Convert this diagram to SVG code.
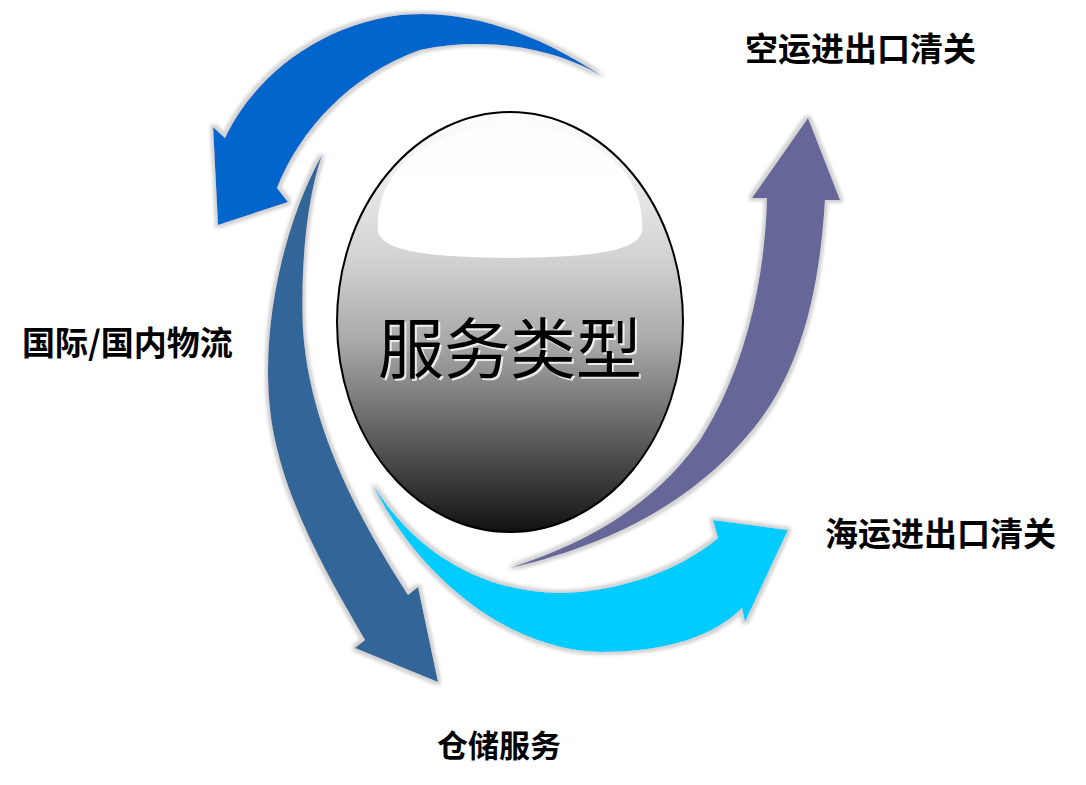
<svg xmlns="http://www.w3.org/2000/svg" width="1086" height="785" viewBox="0 0 1086 785">
  <style>
    .lbl { font-family: "Noto Sans CJK SC", "Noto Sans", sans-serif; font-weight: bold; font-size: 33px; fill: #000; }
    .ctr { font-family: "Noto Sans CJK SC", "Noto Sans", sans-serif; font-size: 66px; text-anchor: middle; }
    .arrow { filter: url(#glow); }
  </style>
  <defs>
    <filter id="glow" x="-10%" y="-10%" width="120%" height="120%">
      <feMorphology in="SourceAlpha" operator="dilate" radius="2.5" result="d"/>
      <feGaussianBlur in="d" stdDeviation="1.5" result="b"/>
      <feFlood flood-color="#d4d4d4"/>
      <feComposite in2="b" operator="in" result="g"/>
      <feMerge><feMergeNode in="g"/><feMergeNode in="SourceGraphic"/></feMerge>
    </filter>
    <linearGradient id="ballGrad" x1="0" y1="0" x2="0" y2="1">
      <stop offset="0" stop-color="#ffffff"/>
      <stop offset="0.35" stop-color="#d2d2d2"/>
      <stop offset="0.55" stop-color="#a8a8a8"/>
      <stop offset="0.8" stop-color="#555555"/>
      <stop offset="1" stop-color="#111111"/>
    </linearGradient>
    <linearGradient id="hiGrad" x1="0" y1="0" x2="0" y2="1">
      <stop offset="0" stop-color="#ffffff" stop-opacity="0.7"/>
      <stop offset="0.4" stop-color="#ffffff" stop-opacity="1"/>
      <stop offset="1" stop-color="#ffffff" stop-opacity="1"/>
    </linearGradient>
  </defs>
  <rect width="1086" height="785" fill="#ffffff"/>

  <g id="connectors">
    <path id="arrow-top" class="arrow" fill="#0066CC" d="M 605,78 C 540,35 470,8 400,15 C 320,25 255,75 225,138 L 213,127 L 218,225 L 288,202 L 277,188 C 300,130 350,75 420,50 C 490,35 560,50 605,78 Z"/>
    <path id="arrow-left" class="arrow" fill="#336699" d="M 322,155 C 280,230 255,350 275,440 C 290,510 330,580 365,640 L 355,648 L 438,682 L 418,587 L 408,595 C 360,520 310,430 303,330 C 300,250 310,190 322,155 Z"/>
    <path id="arrow-bottom" class="arrow" fill="#00CCFF" d="M 373,485 C 420,580 510,650 600,652 C 670,652 715,635 742,608 L 745,622 L 788,530 L 713,520 L 718,538 C 680,570 620,592 560,593 C 490,592 420,560 373,485 Z"/>
    <path id="arrow-right" class="arrow" fill="#666699" d="M 510,568 C 610,545 700,500 760,420 C 805,360 820,280 825,200 L 840,200 L 808,118 L 752,198 L 767,198 C 765,280 745,370 700,440 C 650,510 580,545 510,568 Z"/>
  </g>

  <g id="center">
    <ellipse cx="510" cy="322" rx="173" ry="210" fill="url(#ballGrad)" stroke="#000" stroke-width="2"/>
    <path d="M 378,232 C 374,168 430,127 510,125 C 590,127 646,168 642,232 C 636,252 590,257 510,258 C 430,257 384,252 378,232 Z" fill="url(#hiGrad)"/>
    <text class="ctr" x="512" y="375" fill="#ffffff" opacity="0.8">服务类型</text>
    <text class="ctr" x="510" y="373" fill="#000000">服务类型</text>
  </g>

  <g id="node-air"><text class="lbl" x="745" y="61">空运进出口清关</text></g>
  <g id="node-logistics"><text class="lbl" x="22" y="355">国际/国内物流</text></g>
  <g id="node-sea"><text class="lbl" x="825" y="546">海运进出口清关</text></g>
  <g id="node-warehouse"><text class="lbl" x="437" y="757" style="font-size:31px">仓储服务</text></g>
</svg>
